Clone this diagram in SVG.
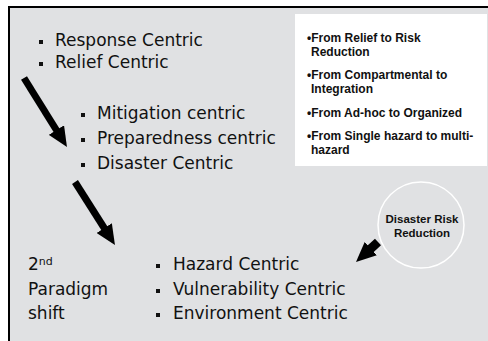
<svg xmlns="http://www.w3.org/2000/svg" width="488" height="341" viewBox="0 0 488 341">
<style>
.t{font-family:"DejaVu Sans",Verdana,sans-serif;font-size:17px;fill:#111}
.b{font-family:"Liberation Sans",Arial,sans-serif;font-size:12px;font-weight:bold;fill:#111}
.c{font-family:"Liberation Sans",Arial,sans-serif;font-size:11.5px;font-weight:bold;fill:#111;text-anchor:middle}
.sq{fill:#111}
.arr{stroke:#000;fill:none}
</style>
<defs>
<marker id="ah" viewBox="0 0 20 18" markerWidth="20" markerHeight="18" refX="7" refY="9" orient="auto" markerUnits="userSpaceOnUse">
<path d="M0,0 L20,9 L0,18 z" fill="#000"/>
</marker>
</defs>
<rect x="0" y="0" width="488" height="341" fill="#fff"/>
<rect x="9" y="7" width="490" height="345" fill="#e0e1e3" stroke="#000" stroke-width="2"/>
<g id="box">
<rect x="295" y="14" width="192" height="152" fill="#fff"/>
<text class="b" x="307" y="42">•From Relief to Risk</text>
<text class="b" x="311" y="56">Reduction</text>
<text class="b" x="307" y="79">•From Compartmental to</text>
<text class="b" x="311" y="93">Integration</text>
<text class="b" x="307" y="117">•From Ad-hoc to Organized</text>
<text class="b" x="307" y="140">•From Single hazard to multi-</text>
<text class="b" x="311" y="154">hazard</text>
</g>
<g id="group1">
<rect class="sq" x="39" y="40" width="4" height="4"/>
<text class="t" x="55" y="46">Response Centric</text>
<rect class="sq" x="39" y="62" width="4" height="4"/>
<text class="t" x="55" y="68">Relief Centric</text>
</g>
<g id="group2">
<rect class="sq" x="81" y="113" width="4" height="4"/>
<text class="t" x="97" y="119">Mitigation centric</text>
<rect class="sq" x="81" y="138" width="4" height="4"/>
<text class="t" x="97" y="144">Preparedness centric</text>
<rect class="sq" x="81" y="163" width="4" height="4"/>
<text class="t" x="97" y="169">Disaster Centric</text>
</g>
<g id="group3">
<rect class="sq" x="156" y="264" width="4" height="4"/>
<text class="t" x="173" y="270">Hazard Centric</text>
<rect class="sq" x="156" y="289" width="4" height="4"/>
<text class="t" x="173" y="295">Vulnerability Centric</text>
<rect class="sq" x="156" y="313" width="4" height="4"/>
<text class="t" x="173" y="319">Environment Centric</text>
</g>
<g id="shift">
<text class="t" x="28" y="270">2<tspan font-size="11" dy="-5">nd</tspan></text>
<text class="t" x="28" y="295">Paradigm</text>
<text class="t" x="28" y="319">shift</text>
</g>
<g id="drr">
<circle cx="421" cy="225" r="43" fill="none" stroke="#fff" stroke-width="1.5"/>
<text class="c" x="422" y="223">Disaster Risk</text>
<text class="c" x="422" y="237">Reduction</text>
</g>
<g id="connectors">
<line class="arr" x1="24" y1="78" x2="60.1" y2="136" stroke-width="7" marker-end="url(#ah)"/>
<line class="arr" x1="75" y1="182" x2="108" y2="234" stroke-width="7" marker-end="url(#ah)"/>
<line class="arr" x1="378" y1="242" x2="365.6" y2="253.3" stroke-width="9" marker-end="url(#ah)"/>
</g>
</svg>
